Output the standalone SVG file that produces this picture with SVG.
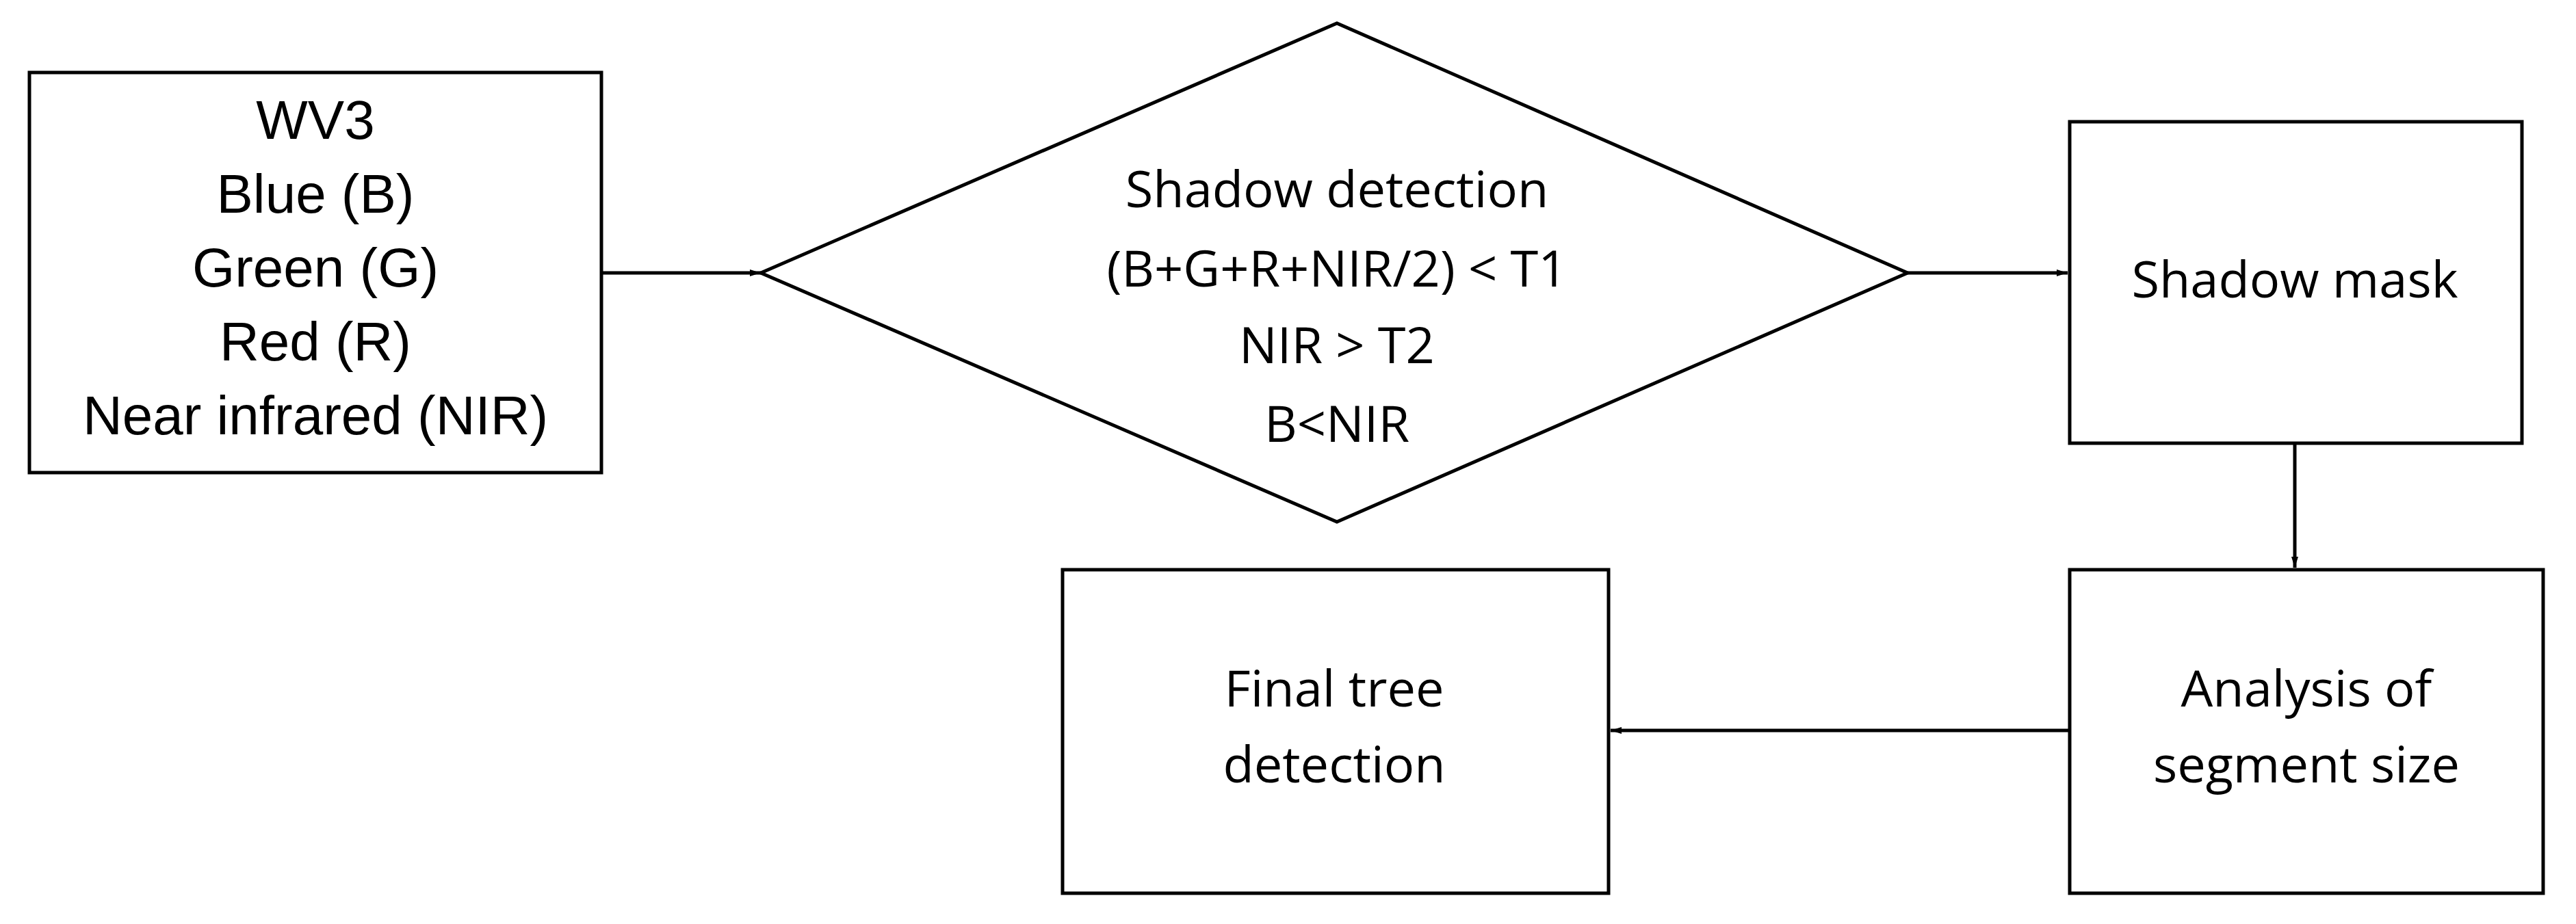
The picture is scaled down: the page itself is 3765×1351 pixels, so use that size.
<svg xmlns="http://www.w3.org/2000/svg" width="3765" height="1351" viewBox="0 0 3765 1351">
<style>
.s{fill:#fff;stroke:#000;stroke-width:5}
.a{font-family:"Liberation Sans",Arial,sans-serif;font-size:80px;text-anchor:middle;dominant-baseline:middle}
.c{font-family:"Open Sans","Liberation Sans",sans-serif;font-size:74px;text-anchor:middle;dominant-baseline:middle}
.l{stroke:#000;stroke-width:5;fill:none;marker-end:url(#m)}
</style>
<defs><marker id="m" markerWidth="16" markerHeight="10" refX="16" refY="5" orient="auto" markerUnits="userSpaceOnUse" viewBox="0 0 16 10"><path d="M0,0L16,5L0,10Z" fill="#000"/></marker></defs>
<rect width="3765" height="1351" fill="#fff"/>
<g id="input"><rect class="s" x="43" y="106" width="836" height="585"/>
<text class="a" x="461" y="182">WV3</text><text class="a" x="461" y="290">Blue (B)</text><text class="a" x="461" y="398">Green (G)</text><text class="a" x="461" y="506">Red (R)</text><text class="a" x="461" y="614">Near infrared (NIR)</text></g>
<g id="detect"><polygon class="s" points="1112,399 1954,34 2788,399 1954,763"/>
<text class="c" x="1954" y="283">Shadow detection</text><text class="c" x="1954" y="399">(B+G+R+NIR/2) &lt; T1</text><text class="c" x="1954" y="511">NIR &gt; T2</text><text class="c" x="1954" y="626">B&lt;NIR</text></g>
<g id="mask"><rect class="s" x="3025" y="178" width="661" height="470"/><text class="c" x="3354" y="415">Shadow mask</text></g>
<g id="analysis"><rect class="s" x="3025" y="833" width="692" height="473"/><text class="c" x="3371" y="1013">Analysis of</text><text class="c" x="3371" y="1124">segment size</text></g>
<g id="final"><rect class="s" x="1553" y="833" width="798" height="473"/><text class="c" x="1950" y="1013">Final tree</text><text class="c" x="1950" y="1124">detection</text></g>
<g id="connectors">
<path class="l" d="M879,399H1112"/><path class="l" d="M2788,399H3022"/><path class="l" d="M3354,648V830"/><path class="l" d="M3025,1068H2354"/>
</g>
</svg>
